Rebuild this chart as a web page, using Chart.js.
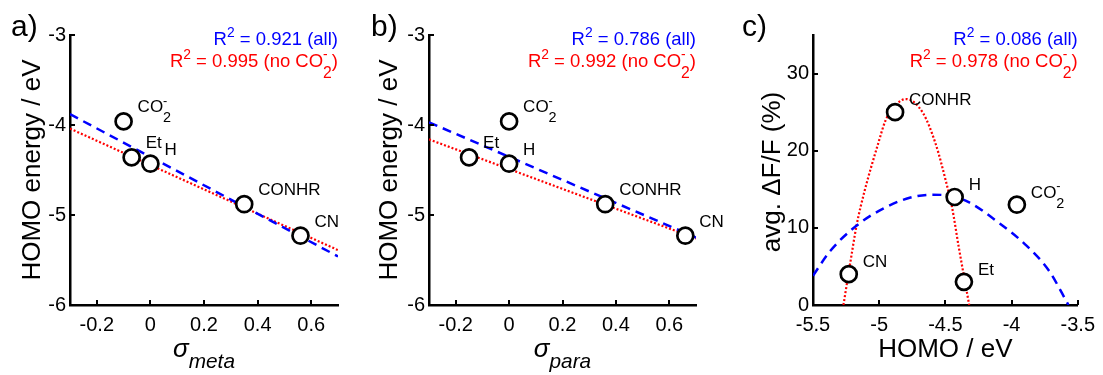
<!DOCTYPE html>
<html><head><meta charset="utf-8">
<script src="https://cdn.jsdelivr.net/npm/chart.js@4.4.0/dist/chart.umd.min.js"></script>
<style>
html,body{margin:0;padding:0;background:#fff;}
#wrap{position:relative;width:1103px;height:375px;overflow:hidden;background:#fff;}
canvas{position:absolute;top:0;}
</style></head><body>
<div id="wrap">
<canvas id="ca" width="365" height="375" style="left:0px"></canvas>
<canvas id="cb" width="365" height="375" style="left:365px"></canvas>
<canvas id="cc" width="373" height="375" style="left:730px"></canvas>
</div>
<script>
// ---- data ----
const substituents = ['CO2-', 'Et', 'H', 'CONHR', 'CN'];
const sigmaMeta = [-0.10, -0.07, 0.00, 0.35, 0.56];
const sigmaPara = [0.00, -0.15, 0.00, 0.36, 0.66];
const homoEnergy = [-3.96, -4.36, -4.43, -4.88, -5.23];
const avgDeltaF = [13, 3, 14, 25, 4];

// fit lines
const fitSigmaX = [-0.3, 0.7];
const fitMetaAll = [-3.88, -5.46];
const fitMetaNoCO2 = [-4.04, -5.39];
const fitParaAll = [-3.97, -5.25];
const fitParaNoCO2 = [-4.16, -5.26];
const fitHomoAllX = [-5.50, -5.37, -5.17, -4.97, -4.77, -4.60, -4.45, -4.32, -4.10, -3.90, -3.72, -3.57];
const fitHomoAllY = [3.8, 7.0, 10.3, 12.5, 13.9, 14.3, 14.1, 13.3, 10.7, 7.9, 4.5, 0];
const fitHomoNoX = [-5.27, -5.22, -5.17, -5.11, -5.01, -4.95, -4.87, -4.80, -4.67, -4.57, -4.50, -4.45, -4.40, -4.32];
const fitHomoNoY = [0, 5.3, 10.4, 14.8, 20.8, 24.0, 26.0, 26.7, 24.9, 20.7, 16.3, 12.7, 7.6, 0];

// ticks
const sigmaTicks = [-0.2, 0, 0.2, 0.4, 0.6];
const energyTicks = [-6, -5, -4, -3];
const homoTicks = [-5.5, -5, -4.5, -4, -3.5];
const dffTicks = [0, 10, 20, 30];

// R^2 values
const r2Meta = ['0.921', '0.995'];
const r2Para = ['0.786', '0.992'];
const r2Homo = ['0.086', '0.978'];

// ---- helpers ----
const FAM = "'Liberation Sans', Arial, Helvetica, sans-serif";
const BLUE = '#0000ff', RED = '#ff0000';
function fnt(sz, it) { return (it ? 'italic ' : '') + sz + 'px ' + FAM; }
const sup = t => ({t, scale: 0.75, dy: -0.44});
const sub = t => ({t, scale: 0.85, dy: 0.58});
const stack = (a, b) => ({stack: [sup(a), sub(b)]});
function segW(ctx, s, base) {
  if (s.stack) return Math.max(...s.stack.map(p => segW(ctx, p, base)));
  ctx.font = fnt(base * (s.scale || 1), s.it);
  return ctx.measureText(s.t).width;
}
function drawRich(ctx, segs, x, y, base, color, align) {
  const total = segs.reduce((a, s) => a + segW(ctx, s, base), 0);
  let cx = align === 'right' ? x - total : align === 'center' ? x - total / 2 : x;
  ctx.fillStyle = color; ctx.textAlign = 'left'; ctx.textBaseline = 'alphabetic';
  for (const s of segs) {
    const w = segW(ctx, s, base);
    const parts = s.stack ? s.stack : [s];
    for (const p of parts) {
      ctx.font = fnt(base * (p.scale || 1), p.it);
      ctx.fillText(p.t, cx, y + (p.dy || 0) * base);
    }
    cx += w;
  }
}
function labelSegs(name) {
  if (name === 'CO2-') return [{t: 'CO'}, stack('-', '2')];
  return [{t: name}];
}
function r2Segs(v, all) {
  return all ? [{t: 'R'}, sup('2'), {t: ' = ' + v + ' (all)'}]
             : [{t: 'R'}, sup('2'), {t: ' = ' + v + ' (no CO'}, stack('-', '2'), {t: ')'}];
}

function deco(c) {
  return {
    id: 'deco',
    afterDraw(chart) {
      const ctx = chart.ctx, xs = chart.scales.x, ys = chart.scales.y, ca = chart.chartArea;
      ctx.save();
      // inward tick marks
      ctx.strokeStyle = '#000'; ctx.lineWidth = 2;
      c.xTicks.forEach(v => {
        const px = Math.round(xs.getPixelForValue(v));
        ctx.beginPath(); ctx.moveTo(px, ca.bottom); ctx.lineTo(px, ca.bottom - 5); ctx.stroke();
      });
      c.yTicks.forEach(v => {
        const py = Math.round(ys.getPixelForValue(v));
        ctx.beginPath(); ctx.moveTo(ca.left, py); ctx.lineTo(ca.left + 5, py); ctx.stroke();
      });
      // point labels
      substituents.forEach((name, i) => {
        const px = xs.getPixelForValue(c.px[i]), py = ys.getPixelForValue(c.py[i]);
        drawRich(ctx, labelSegs(name), px + c.ldx, py + c.ldy, 17, '#000', 'left');
      });
      // R^2 annotations
      drawRich(ctx, r2Segs(c.r2[0], true), ca.right, 45, 18.5, BLUE, 'right');
      drawRich(ctx, r2Segs(c.r2[1], false), ca.right, 67, 18.5, RED, 'right');
      // panel letter
      ctx.font = fnt(30); ctx.fillStyle = '#000'; ctx.textAlign = 'left'; ctx.textBaseline = 'alphabetic';
      ctx.fillText(c.letter, c.letterX, 36);
      // y title
      ctx.save();
      ctx.translate(c.yTitleX, c.yTitleY); ctx.rotate(-Math.PI / 2);
      ctx.font = fnt(26); ctx.textAlign = 'center'; ctx.textBaseline = 'alphabetic';
      ctx.fillText(c.yTitle, 0, 0);
      ctx.restore();
      // x title
      drawRich(ctx, c.xTitle, (ca.left + ca.right) / 2, 357, 26, '#000', 'center');
      ctx.restore();
    }
  };
}

function makeChart(id, c) {
  const datasets = [{
    data: c.px.map((x, i) => ({x, y: c.py[i]})),
    pointRadius: 8, pointHoverRadius: 8, pointBorderWidth: 2.7, borderWidth: 2.7,
    borderColor: '#000', backgroundColor: '#fff', pointBackgroundColor: '#fff', pointBorderColor: '#000',
    showLine: false, order: 0
  }];
  c.fits.forEach(f => datasets.push({
    data: f.x.map((x, i) => ({x, y: f.y[i]})),
    showLine: true, borderColor: f.color, borderWidth: f.w, borderDash: f.dash,
    pointRadius: 0, pointHoverRadius: 0, fill: false, order: 1,
    cubicInterpolationMode: f.smooth ? 'monotone' : 'default', tension: 0
  }));
  const tickFont = {family: FAM, size: 20};
  new Chart(document.getElementById(id), {
    type: 'scatter',
    data: {datasets},
    options: {
      responsive: false, animation: false, devicePixelRatio: 1, events: [],
      layout: {padding: {top: 35, right: c.padR, left: 0, bottom: 0}},
      plugins: {legend: {display: false}, tooltip: {enabled: false}},
      scales: {
        x: {
          type: 'linear', min: c.xMin, max: c.xMax,
          afterBuildTicks: s => { s.ticks = c.xTicks.map(v => ({value: v})); },
          afterFit: s => { s.height = 70; },
          ticks: {font: tickFont, color: '#000', padding: 8, maxRotation: 0, autoSkip: false, callback: v => String(v)},
          grid: {display: false, drawTicks: false},
          border: {display: true, color: '#000', width: 2.5}
        },
        y: {
          type: 'linear', min: c.yMin, max: c.yMax,
          afterBuildTicks: s => { s.ticks = c.yTicks.map(v => ({value: v})); },
          afterFit: s => { s.width = c.yW; },
          ticks: {font: tickFont, color: '#000', padding: 4, autoSkip: false, callback: v => String(v)},
          grid: {display: false, drawTicks: false},
          border: {display: true, color: '#000', width: 2.5}
        }
      }
    },
    plugins: [deco(c)]
  });
}

makeChart('ca', {
  px: sigmaMeta, py: homoEnergy, xMin: -0.3, xMax: 0.7, yMin: -6, yMax: -3,
  xTicks: sigmaTicks, yTicks: energyTicks, yW: 70, padR: 27,
  fits: [
    {x: fitSigmaX, y: fitMetaAll, color: BLUE, w: 2.5, dash: [9, 6]},
    {x: fitSigmaX, y: fitMetaNoCO2, color: RED, w: 2.2, dash: [2, 2]}
  ],
  ldx: 14, ldy: -9, r2: r2Meta, letter: 'a)', letterX: 11,
  yTitle: 'HOMO energy / eV', yTitleX: 40, yTitleY: 170,
  xTitle: [{t: 'σ', it: true}, {t: 'meta', it: true, scale: 0.8, dy: 0.42}]
});
makeChart('cb', {
  px: sigmaPara, py: homoEnergy, xMin: -0.3, xMax: 0.7, yMin: -6, yMax: -3,
  xTicks: sigmaTicks, yTicks: energyTicks, yW: 64, padR: 34,
  fits: [
    {x: fitSigmaX, y: fitParaAll, color: BLUE, w: 2.5, dash: [9, 6]},
    {x: fitSigmaX, y: fitParaNoCO2, color: RED, w: 2.2, dash: [2, 2]}
  ],
  ldx: 14, ldy: -9, r2: r2Para, letter: 'b)', letterX: 6,
  yTitle: 'HOMO energy / eV', yTitleX: 32, yTitleY: 170,
  xTitle: [{t: 'σ', it: true}, {t: 'para', it: true, scale: 0.8, dy: 0.42}]
});
makeChart('cc', {
  px: homoEnergy, py: avgDeltaF, xMin: -5.5, xMax: -3.5, yMin: 0, yMax: 35,
  xTicks: homoTicks, yTicks: dffTicks, yW: 83, padR: 23,
  fits: [
    {x: fitHomoAllX, y: fitHomoAllY, color: BLUE, w: 2.5, dash: [9, 6], smooth: true},
    {x: fitHomoNoX, y: fitHomoNoY, color: RED, w: 2.2, dash: [2, 2], smooth: true}
  ],
  ldx: 14, ldy: -7, r2: r2Homo, letter: 'c)', letterX: 12,
  yTitle: 'avg. ΔF/F (%)', yTitleX: 50, yTitleY: 172,
  xTitle: [{t: 'HOMO / eV'}]
});
</script>
</body></html>
